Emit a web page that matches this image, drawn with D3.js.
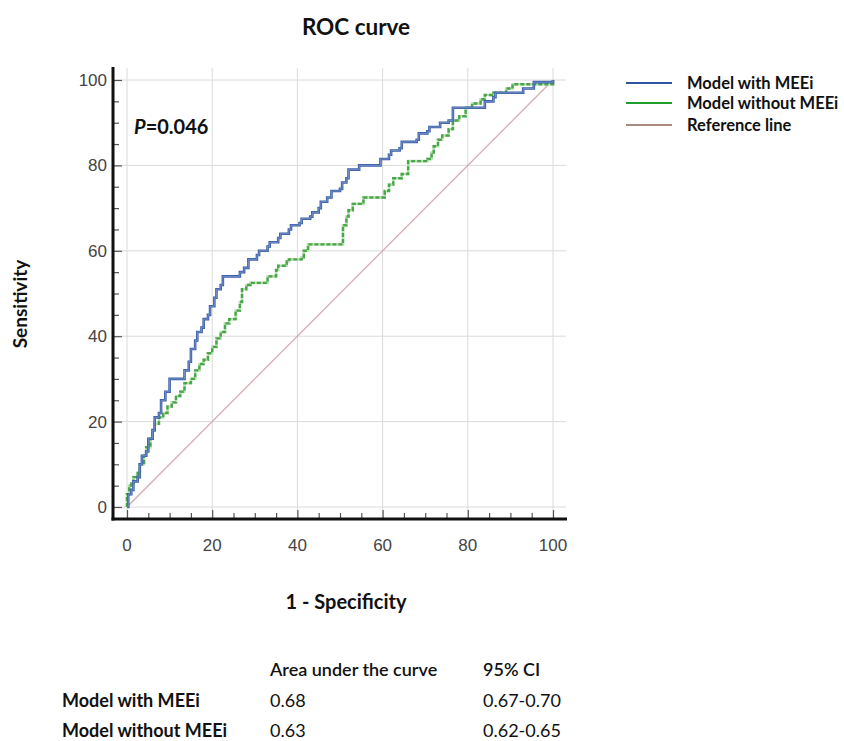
<!DOCTYPE html>
<html>
<head>
<meta charset="utf-8">
<script src="https://cdn.jsdelivr.net/npm/d3@7"></script>
<style>
  body { margin: 0; background: #fff; }
  svg text { font-family: Lato, "Open Sans", sans-serif; }
</style>
</head>
<body>
<svg id="roc"></svg>
<script>
var width = 844, height = 741;

// curve readings (1 - specificity, sensitivity), in %
var withMEEi = [
  [0,0],[0.3,3],[1,4],[1.5,6],[2.5,7],[3,10],[3.5,12],[4.5,13],[5,16],[6,18],[6.5,21],[7.5,22],
  [8,25],[9,27],[10,30],[13,30],[13.5,32],[14.5,34],[15,37],[16,39],[16.5,41],[17.5,42],[18,44],
  [19,45],[19.5,47],[20.5,49],[21,51],[22,52],[22.5,54],[26,54],[26.5,55],[27.5,56],[28.5,58],
  [30.5,59],[31,60],[33,61],[33.5,62],[35.5,63],[36,64],[38,65],[38.5,66],[40.5,66.5],[41,67.5],
  [43,68],[43.5,69],[45,70],[45.5,71.5],[47,72.5],[48,74],[50,74.5],[50.5,76],[51.5,77],[52,79],
  [54.5,80],[59,80],[59.5,81.5],[61.5,82.5],[62,83.5],[64,84],[64.5,85.5],[68,86],[68.5,87.5],
  [70.5,88],[71,89],[73.5,90],[75.5,90.5],[76.5,93.5],[83.5,93.5],[84,95],[86,96],[86.5,97],
  [92.5,97],[93,98],[95,98],[95.5,99.5],[99,99.5],[100,100]
];
var withoutMEEi = [
  [0,0],[0,3],[0.5,5],[1,5.5],[1.5,7],[2.5,8],[3,10],[4,12],[4.5,14],[5.5,16],[6,18],[6.5,19.5],
  [7.5,21],[8.5,22],[9.5,23.5],[10.5,24.5],[11.5,26],[12.5,27],[13.5,29],[15,30],[16,32],[17,33.5],
  [18,34.5],[19,36],[20,37.5],[21,39.5],[22,41],[23,43],[24,44],[25.5,46],[26.5,48],[27,51],[28,52],
  [29,52.5],[32.5,52.5],[33,54],[35,55.5],[35.5,56.5],[37.5,57.5],[38,58],[41,58.5],[41.5,60],
  [42.5,61.5],[50.5,61.5],[50.7,66],[51.5,68],[52,69.5],[53,71],[55.5,72.5],[59.5,72.5],[60.5,74],
  [61.5,75.5],[62.5,77],[64.5,78],[66,81],[70.5,81.5],[71.5,83],[72,84.5],[73,86],[74,87],
  [75.5,88.5],[76.5,90.5],[78,91.5],[79.5,93.5],[81,94.5],[83,95.5],[84,96.5],[86,97],[89,98],
  [90.5,99],[96,99],[100,100]
];
var refLine = [[0,0],[100,100]];

var majorTicks = [0, 20, 40, 60, 80, 100];
var legendLabels = ["Model with MEEi", "Model without MEEi", "Reference line"];
var legendColors = ["#2f55a2", "#1e9e28", "#a98a80"];

var tableHeader = ["Area under the curve", "95% CI"];
var tableRows = ["Model with MEEi", "Model without MEEi"];
var aucValues = ["0.68", "0.63"];
var ciValues = ["0.67-0.70", "0.62-0.65"];

var x = d3.scaleLinear().domain([0, 100]).range([127, 553]);
var y = d3.scaleLinear().domain([0, 100]).range([507, 80]);

var svg = d3.select("#roc").attr("width", width).attr("height", height);

// grid
var gGrid = svg.append("g");
gGrid.selectAll("line.v").data(majorTicks).enter().append("line")
    .attr("x1", d => x(d)).attr("x2", d => x(d))
    .attr("y1", 68).attr("y2", 519)
    .style("stroke", "#dadada").style("stroke-width", 1);
gGrid.selectAll("line.h").data(majorTicks).enter().append("line")
    .attr("y1", d => y(d)).attr("y2", d => y(d))
    .attr("x1", 113).attr("x2", 566)
    .style("stroke", "#dadada").style("stroke-width", 1);

// axes (ticks point inwards)
var minor = d3.range(0, 101, 5);
var yAxis = d3.axisRight(y).tickValues(minor).tickSize(8).tickFormat("");
var xAxis = d3.axisTop(x).tickValues(minor).tickSize(8).tickFormat("");

var gy = svg.append("g").attr("transform", "translate(113,0)").call(yAxis);
var gx = svg.append("g").attr("transform", "translate(0,519)").call(xAxis);
[gy, gx].forEach(function(g) {
    g.select(".domain").remove();
    g.selectAll(".tick line").style("stroke", "#555").style("stroke-width", 1.2)
        .attr(g === gy ? "x2" : "y2", d => (d % 20 == 0 ? (g === gy ? 9 : -9) : (g === gy ? 6 : -6)));
});
svg.append("line").attr("x1", 113).attr("x2", 113).attr("y1", 67).attr("y2", 520.5)
    .style("stroke", "#111").style("stroke-width", 3);
svg.append("line").attr("x1", 111.5).attr("x2", 567).attr("y1", 519).attr("y2", 519)
    .style("stroke", "#111").style("stroke-width", 3);

// tick labels
svg.append("g").selectAll("text").data(majorTicks).enter().append("text")
    .attr("x", 107).attr("y", d => y(d) + 6)
    .attr("text-anchor", "end")
    .style("font-family", "'Liberation Sans', Arial, sans-serif")
    .style("font-size", "17px").style("fill", "#444")
    .text(d => d);
svg.append("g").selectAll("text").data(majorTicks).enter().append("text")
    .attr("x", d => x(d)).attr("y", 551)
    .attr("text-anchor", "middle")
    .style("font-family", "'Liberation Sans', Arial, sans-serif")
    .style("font-size", "17px").style("fill", "#444")
    .text(d => d);

// curves
var line = d3.line().x(d => x(d[0])).y(d => y(d[1]));
var stepLine = d3.line().x(d => x(d[0])).y(d => y(d[1])).curve(d3.curveStepAfter);

svg.append("path").datum(refLine).attr("d", line)
    .style("fill", "none").style("stroke", "#d4aab2").style("stroke-width", 1.3);

svg.append("path").datum(withoutMEEi).attr("d", stepLine)
    .style("fill", "none").style("stroke", "#b8e0b0").style("stroke-width", 2.6);
svg.append("path").datum(withoutMEEi).attr("d", stepLine)
    .style("fill", "none").style("stroke", "#4aa64a").style("stroke-width", 2.4)
    .style("stroke-dasharray", "4,2");

svg.append("path").datum(withMEEi).attr("d", stepLine)
    .style("fill", "none").style("stroke", "#3b5fa6").style("stroke-width", 2.6);
svg.append("path").datum(withMEEi).attr("d", stepLine)
    .style("fill", "none").style("stroke", "#7f9ad0").style("stroke-width", 0.8);

// annotation
var pText = svg.append("text").attr("x", 134).attr("y", 134)
    .style("font-size", "20px").style("font-weight", "bold").style("fill", "#111");
pText.append("tspan").style("font-style", "italic").text("P");
pText.append("tspan").text("=0.046");

// titles
svg.append("text").attr("x", 356).attr("y", 35).attr("text-anchor", "middle")
    .style("font-size", "22.5px").style("font-weight", "bold").style("fill", "#111")
    .text("ROC curve");
svg.append("text").attr("transform", "translate(27,304) rotate(-90)").attr("text-anchor", "middle")
    .style("font-size", "19px").style("font-weight", "bold").style("fill", "#111")
    .text("Sensitivity");
svg.append("text").attr("x", 346).attr("y", 609).attr("text-anchor", "middle")
    .style("font-size", "20px").style("font-weight", "bold").style("fill", "#111")
    .text("1 - Specificity");

// legend
var legend = svg.append("g").selectAll("g").data(legendLabels).enter().append("g")
    .attr("transform", (d, i) => "translate(626," + [83, 103, 125][i] + ")");
legend.append("line").attr("x1", 0).attr("x2", 46)
    .style("stroke", (d, i) => legendColors[i]).style("stroke-width", 2.2);
legend.append("text").attr("x", 61).attr("y", 5.5)
    .style("font-size", "16.5px").style("font-weight", "bold").style("fill", "#111")
    .text(d => d);

// table
var gTable = svg.append("g").style("font-size", "18px").style("fill", "#111");
gTable.selectAll("text.h").data(tableHeader).enter().append("text")
    .attr("x", (d, i) => [270, 483][i]).attr("y", 676)
    .style("font-weight", "600").text(d => d);
gTable.selectAll("text.r").data(tableRows).enter().append("text")
    .attr("x", 62).attr("y", (d, i) => 707 + i * 30)
    .style("font-weight", "bold").text(d => d);
gTable.selectAll("text.a").data(aucValues).enter().append("text")
    .attr("x", 270).attr("y", (d, i) => 707 + i * 30).text(d => d);
gTable.selectAll("text.c").data(ciValues).enter().append("text")
    .attr("x", 483).attr("y", (d, i) => 707 + i * 30).text(d => d);
</script>
</body>
</html>
